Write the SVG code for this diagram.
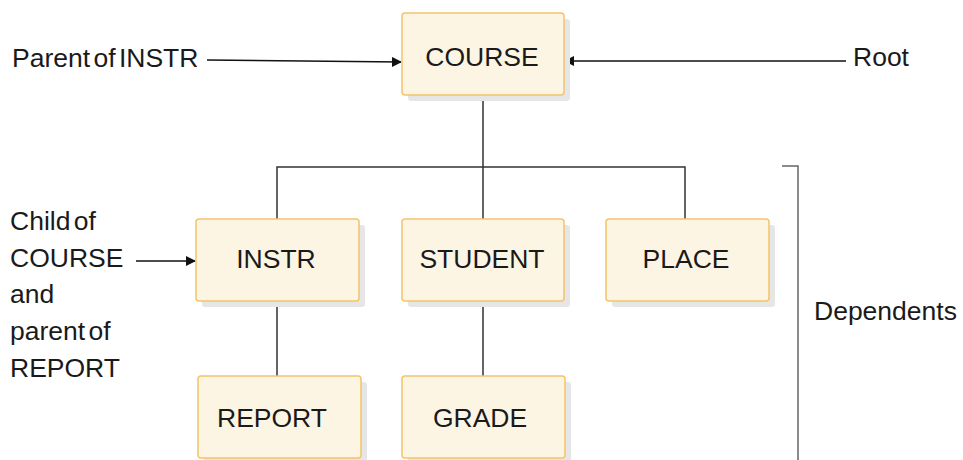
<svg xmlns="http://www.w3.org/2000/svg" width="963" height="460" viewBox="0 0 963 460">
<defs>
<marker id="arr" markerWidth="10" markerHeight="10" refX="9" refY="5" orient="auto" markerUnits="userSpaceOnUse">
<path d="M0,0 L10,5 L0,10 Z" fill="#111"/>
</marker>
<style>
.box{fill:#fdf5e4;stroke:#f5c46a;stroke-width:1.5}
.sh{fill:#e6e6e6}
.t{font-family:"Liberation Sans",Arial,sans-serif;font-size:26.5px;fill:#1a1a1a}
.c{text-anchor:middle}
.ln{stroke:#333;stroke-width:1.5;fill:none}
.ar{stroke:#111;stroke-width:1.5;fill:none;marker-end:url(#arr)}
</style>
</defs>
<rect width="963" height="460" fill="#fff"/>
<g id="connectors">
<path class="ln" d="M483,95 V219 M277,219 V167 H685 V219 M277,301 V376 M483,301 V376"/>
<path class="ar" d="M207,60 L401,62"/>
<path class="ar" d="M846,61 L565,61"/>
<path class="ar" d="M136,261 L195,261"/>
<path d="M782,166 H798 V460" stroke="#666" stroke-width="1.5" fill="none"/>
</g>
<g id="course"><rect class="sh" x="408" y="19" width="162" height="82" rx="3"/><rect class="box" x="402" y="13" width="162" height="82" rx="3"/><text class="t c" x="482" y="66">COURSE</text></g>
<g id="instr"><rect class="sh" x="202" y="225" width="163" height="82" rx="3"/><rect class="box" x="196" y="219" width="163" height="82" rx="3"/><text class="t c" x="276" y="268">INSTR</text></g>
<g id="student"><rect class="sh" x="408" y="225" width="162" height="82" rx="3"/><rect class="box" x="402" y="219" width="162" height="82" rx="3"/><text class="t c" x="482" y="268">STUDENT</text></g>
<g id="place"><rect class="sh" x="612" y="225" width="163" height="82" rx="3"/><rect class="box" x="606" y="219" width="163" height="82" rx="3"/><text class="t c" x="686" y="268">PLACE</text></g>
<g id="report"><rect class="sh" x="204" y="382" width="163" height="82" rx="3"/><rect class="box" x="198" y="376" width="163" height="82" rx="3"/><text class="t c" x="272" y="427">REPORT</text></g>
<g id="grade"><rect class="sh" x="408" y="382" width="163" height="82" rx="3"/><rect class="box" x="402" y="376" width="163" height="82" rx="3"/><text class="t c" x="480" y="427">GRADE</text></g>
<g id="labels">
<text class="t" x="12" y="67" word-spacing="-4">Parent of INSTR</text>
<text class="t" x="853" y="66">Root</text>
<text class="t" x="814" y="320">Dependents</text>
<text class="t" x="10" y="230" word-spacing="-4">Child of</text>
<text class="t" x="10" y="267">COURSE</text>
<text class="t" x="10" y="303">and</text>
<text class="t" x="10" y="340" word-spacing="-4">parent of</text>
<text class="t" x="10" y="377">REPORT</text>
</g>
</svg>
